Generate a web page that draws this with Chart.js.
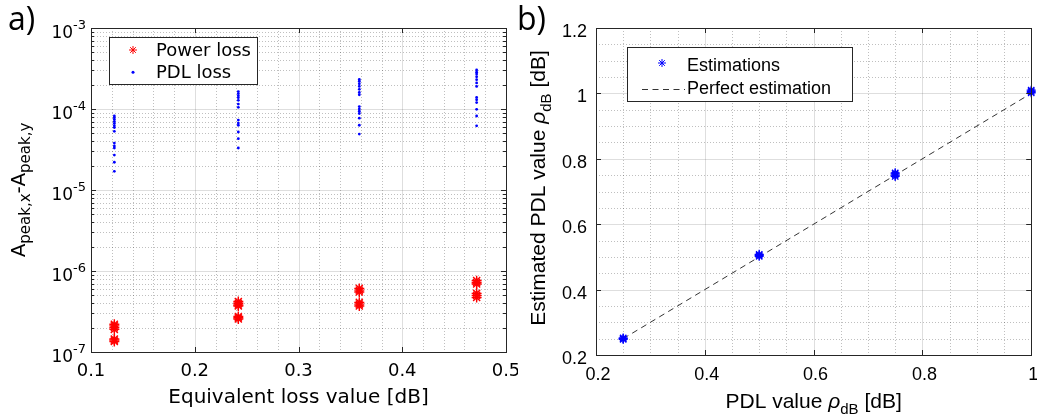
<!DOCTYPE html>
<html>
<head>
<meta charset="utf-8">
<title>PDL estimation</title>
<script src="https://cdn.jsdelivr.net/npm/chart.js@4.4.1/dist/chart.umd.min.js"></script>
<style>
  html, body { margin: 0; padding: 0; background: #fff; }
  body { width: 1037px; height: 418px; position: relative; overflow: hidden; }
  canvas { position: absolute; top: 0; }
  #chartA { left: 0; }
  #chartB { left: 518px; }
</style>
</head>
<body>
<canvas id="chartA" width="518" height="418"></canvas>
<canvas id="chartB" width="519" height="418"></canvas>
<script>
// ---- data, panel a) ----
const lossValue = [0.1225, 0.242, 0.3586, 0.4717];
const powerLoss = [
    [2.2e-7, 2.1e-7, 2.0e-7, 1.9e-7, 1.45e-7, 1.4e-7, 1.35e-7],
    [4.2e-7, 4.0e-7, 3.8e-7, 3.7e-7, 2.75e-7, 2.65e-7, 2.55e-7],
    [6.1e-7, 5.8e-7, 5.5e-7, 4.1e-7, 3.9e-7, 3.7e-7],
    [7.6e-7, 7.2e-7, 6.9e-7, 5.3e-7, 5.0e-7, 4.7e-7]
];
const pdlLoss = [
    [8.2e-5, 7.8e-5, 7.4e-5, 7.0e-5, 6.6e-5, 6.2e-5, 5.9e-5, 5.3e-5, 3.8e-5, 3.5e-5, 3.3e-5, 2.7e-5, 2.2e-5, 1.7e-5],
    [1.64e-4, 1.55e-4, 1.46e-4, 1.38e-4, 1.28e-4, 1.15e-4, 1.05e-4, 7.3e-5, 6.7e-5, 6.3e-5, 5.2e-5, 4.3e-5, 3.3e-5],
    [2.32e-4, 2.2e-4, 2.05e-4, 1.9e-4, 1.75e-4, 1.6e-4, 1.5e-4, 1.07e-4, 1.0e-4, 9.4e-5, 8.8e-5, 7.7e-5, 6.3e-5, 4.9e-5],
    [3.03e-4, 2.85e-4, 2.7e-4, 2.5e-4, 2.3e-4, 2.1e-4, 1.9e-4, 1.39e-4, 1.3e-4, 1.2e-4, 9.9e-5, 8.2e-5, 6.2e-5]
];
const xTicksA = [0.1, 0.2, 0.3, 0.4, 0.5];
const yTicksA = [1e-7, 1e-6, 1e-5, 1e-4, 1e-3];

// ---- data, panel b) ----
const pdlTrue = [0.25, 0.5, 0.75, 1.0];
const pdlEstimated = [
    [0.248, 0.25, 0.252],
    [0.502, 0.505, 0.508],
    [0.746, 0.75, 0.754, 0.757],
    [1.002, 1.006, 1.01]
];
const perfectLine = [0.25, 1.0];
const xTicksB = [0.2, 0.4, 0.6, 0.8, 1];
const yTicksB = [0.2, 0.4, 0.6, 0.8, 1, 1.2];

const ink = '#262626';
const majorGrid = 'rgba(0,0,0,0.13)';
const minorGrid = 'rgba(0,0,0,0.25)';

// text runs: [text, font, dy]
function drawRuns(ctx, runs, x, y, angle, align) {
    ctx.save();
    ctx.translate(x, y);
    ctx.rotate(angle);
    ctx.textAlign = 'left';
    ctx.textBaseline = 'alphabetic';
    ctx.fillStyle = '#000';
    let total = 0;
    runs.forEach(r => { ctx.font = r[1]; total += ctx.measureText(r[0]).width; });
    let cx = align === 'center' ? -total / 2 : (align === 'right' ? -total : 0);
    runs.forEach(r => {
        ctx.font = r[1];
        ctx.fillText(r[0], cx, r[2] || 0);
        cx += ctx.measureText(r[0]).width;
    });
    ctx.restore();
}

function vLine(ctx, px, top, bottom) {
    const xx = Math.round(px) + 0.5;
    ctx.beginPath(); ctx.moveTo(xx, top); ctx.lineTo(xx, bottom); ctx.stroke();
}
function hLine(ctx, py, left, right) {
    const yy = Math.round(py) + 0.5;
    ctx.beginPath(); ctx.moveTo(left, yy); ctx.lineTo(right, yy); ctx.stroke();
}

function drawBox(ctx, a) {
    ctx.strokeStyle = ink;
    ctx.lineWidth = 1;
    ctx.setLineDash([]);
    ctx.strokeRect(Math.round(a.left) + 0.5, Math.round(a.top) + 0.5,
        Math.round(a.right - a.left), Math.round(a.bottom - a.top));
}

// minor positions (grid only)
const minorXA = [];
for (let i = 5; i <= 25; i++) if (i % 5) minorXA.push(i * 0.02);
const minorYA = [];
for (let d = -7; d <= -4; d++) for (let m = 2; m <= 9; m++) minorYA.push(m * Math.pow(10, d));
const minorB = [];
for (let i = 4; i <= 24; i++) if (i % 4) minorB.push(i * 0.05);

const frameA = {
    id: 'frameA',
    beforeDatasetsDraw(chart) {
        const { ctx, chartArea: a, scales: { x, y } } = chart;
        ctx.save();
        ctx.lineWidth = 1;
        ctx.setLineDash([1, 2]);
        ctx.strokeStyle = minorGrid;
        minorXA.forEach(v => vLine(ctx, x.getPixelForValue(v), a.top, a.bottom));
        minorYA.forEach(v => hLine(ctx, y.getPixelForValue(v), a.left, a.right));
        ctx.setLineDash([]);
        ctx.strokeStyle = majorGrid;
        xTicksA.forEach(v => vLine(ctx, x.getPixelForValue(v), a.top, a.bottom));
        yTicksA.forEach(v => hLine(ctx, y.getPixelForValue(v), a.left, a.right));
        ctx.restore();
    },
    afterDraw(chart) {
        const { ctx, chartArea: a, scales: { x, y } } = chart;
        ctx.save();
        drawBox(ctx, a);
        ctx.strokeStyle = ink;
        xTicksA.forEach(v => {
            const px = x.getPixelForValue(v);
            vLine(ctx, px, a.bottom - 5, a.bottom);
            vLine(ctx, px, a.top, a.top + 5);
        });
        yTicksA.forEach(v => {
            const py = y.getPixelForValue(v);
            hLine(ctx, py, a.left, a.left + 5);
            hLine(ctx, py, a.right - 5, a.right);
        });
        minorYA.forEach(v => {
            const py = y.getPixelForValue(v);
            hLine(ctx, py, a.left, a.left + 3);
            hLine(ctx, py, a.right - 3, a.right);
        });

        // tick labels
        ctx.fillStyle = '#000';
        ctx.textBaseline = 'alphabetic';
        xTicksA.forEach(v => {
            ctx.font = '18px "DejaVu Sans"';
            ctx.textAlign = 'center';
            ctx.fillText(v.toFixed(1), x.getPixelForValue(v), 376);
        });
        yTicksA.forEach(v => {
            const py = y.getPixelForValue(v);
            const sup = String(Math.round(Math.log10(v)));
            drawRuns(ctx, [['10', '17px "DejaVu Sans"', 0], [sup, '13px "DejaVu Sans"', -9]], 86, py + 10, 0, 'right');
        });

        // axis titles
        drawRuns(ctx, [['Equivalent loss value [dB]', '20px "DejaVu Sans"', 0]], (a.left + a.right) / 2, 403, 0, 'center');
        drawRuns(ctx, [
            ['A', '20px "DejaVu Sans"', 0],
            ['peak,x', '15px "DejaVu Sans"', 5],
            ['-A', '20px "DejaVu Sans"', 0],
            ['peak,y', '15px "DejaVu Sans"', 5]
        ], 25, (a.top + a.bottom) / 2, -Math.PI / 2, 'center');

        // legend
        ctx.fillStyle = '#fff';
        ctx.fillRect(109.5, 37.5, 148, 47);
        ctx.strokeStyle = ink;
        ctx.strokeRect(109.5, 37.5, 148, 47);
        ctx.strokeStyle = '#ff0000';
        ctx.fillStyle = '#ff0000';
        Chart.helpers.drawPoint(ctx, { pointStyle: 'star', radius: 4, borderWidth: 1 }, 133, 50);
        ctx.fillStyle = '#0000ff';
        ctx.beginPath(); ctx.arc(133, 72.3, 1.5, 0, Math.PI * 2); ctx.fill();
        ctx.fillStyle = '#000';
        ctx.font = '18px "DejaVu Sans"';
        ctx.textAlign = 'left';
        ctx.fillText('Power loss', 156, 56);
        ctx.fillText('PDL loss', 156, 78);

        // panel tag
        ctx.font = '32px "Open Sans"';
        ctx.fillText('a)', 8, 30);
        ctx.restore();
    }
};

const frameB = {
    id: 'frameB',
    beforeDatasetsDraw(chart) {
        const { ctx, chartArea: a, scales: { x, y } } = chart;
        ctx.save();
        ctx.lineWidth = 1;
        ctx.setLineDash([1, 2]);
        ctx.strokeStyle = minorGrid;
        minorB.filter(v => v < 1.01).forEach(v => vLine(ctx, x.getPixelForValue(v), a.top, a.bottom));
        minorB.forEach(v => hLine(ctx, y.getPixelForValue(v), a.left, a.right));
        ctx.setLineDash([]);
        ctx.strokeStyle = majorGrid;
        xTicksB.forEach(v => vLine(ctx, x.getPixelForValue(v), a.top, a.bottom));
        yTicksB.forEach(v => hLine(ctx, y.getPixelForValue(v), a.left, a.right));
        ctx.restore();
    },
    afterDraw(chart) {
        const { ctx, chartArea: a, scales: { x, y } } = chart;
        ctx.save();
        drawBox(ctx, a);
        ctx.strokeStyle = ink;
        xTicksB.forEach(v => {
            const px = x.getPixelForValue(v);
            vLine(ctx, px, a.bottom - 5, a.bottom);
            vLine(ctx, px, a.top, a.top + 5);
        });
        yTicksB.forEach(v => {
            const py = y.getPixelForValue(v);
            hLine(ctx, py, a.left, a.left + 5);
            hLine(ctx, py, a.right - 5, a.right);
        });

        ctx.fillStyle = '#000';
        ctx.textBaseline = 'alphabetic';
        ctx.font = '18px "Liberation Sans"';
        xTicksB.forEach(v => {
            ctx.textAlign = 'center';
            ctx.fillText(String(Number(v.toFixed(1))), x.getPixelForValue(v) + 2, 380);
        });
        yTicksB.forEach(v => {
            ctx.textAlign = 'right';
            ctx.fillText(String(Number(v.toFixed(1))), 69, y.getPixelForValue(v) + 9);
        });

        const f = '21px "Liberation Sans"';
        const fi = 'italic 21px "Liberation Sans"';
        const fs = '15px "Liberation Sans"';
        drawRuns(ctx, [['PDL value ', f, 0], ['\u03c1', fi, 0], ['dB', fs, 6], [' [dB]', f, 0]],
            (a.left + a.right) / 2, 408, 0, 'center');
        drawRuns(ctx, [['Estimated PDL value ', f, 0], ['\u03c1', fi, 0], ['dB', fs, 6], [' [dB]', f, 0]],
            27, 188, -Math.PI / 2, 'center');

        // legend
        ctx.fillStyle = '#fff';
        ctx.fillRect(109.5, 47.5, 225, 54);
        ctx.strokeStyle = ink;
        ctx.strokeRect(109.5, 47.5, 225, 54);
        ctx.strokeStyle = '#0000ff';
        ctx.fillStyle = '#0000ff';
        Chart.helpers.drawPoint(ctx, { pointStyle: 'star', radius: 4, borderWidth: 1 }, 144, 63);
        ctx.strokeStyle = '#333';
        ctx.setLineDash([6, 4.5]);
        ctx.beginPath(); ctx.moveTo(124, 89.5); ctx.lineTo(167, 89.5); ctx.stroke();
        ctx.setLineDash([]);
        ctx.fillStyle = '#000';
        ctx.font = '18px "Liberation Sans"';
        ctx.textAlign = 'left';
        ctx.fillText('Estimations', 169, 71);
        ctx.fillText('Perfect estimation', 169, 94);

        ctx.font = '32px "Open Sans"';
        ctx.fillText('b)', -1, 30);
        ctx.restore();
    }
};

function hiddenAxis(extra) {
    return Object.assign({
        ticks: { display: false },
        grid: { display: false },
        border: { display: false },
        title: { display: false }
    }, extra);
}

const powerPoints = powerLoss.flatMap((col, i) => col.map(v => ({ x: lossValue[i], y: v })));
const pdlPoints = pdlLoss.flatMap((col, i) => col.map(v => ({ x: lossValue[i], y: v })));

new Chart(document.getElementById('chartA').getContext('2d'), {
    type: 'scatter',
    data: {
        datasets: [{
            label: 'Power loss',
            data: powerPoints,
            pointStyle: 'star',
            pointRadius: 5,
            borderWidth: 1.4,
            borderColor: '#ff0000',
            backgroundColor: '#ff0000'
        }, {
            label: 'PDL loss',
            data: pdlPoints,
            pointStyle: 'circle',
            pointRadius: 1.4,
            borderWidth: 0,
            backgroundColor: '#0000ff'
        }]
    },
    options: {
        responsive: false,
        animation: false,
        devicePixelRatio: 1,
        events: [],
        layout: { padding: { left: 0, top: 28, right: 12, bottom: 0 } },
        plugins: { legend: { display: false }, tooltip: { enabled: false } },
        scales: {
            x: hiddenAxis({ type: 'linear', min: 0.1, max: 0.5, afterFit: s => { s.height = 66; } }),
            y: hiddenAxis({ type: 'logarithmic', min: 1e-7, max: 1e-3, afterFit: s => { s.width = 91; } })
        }
    },
    plugins: [frameA]
});

const estPoints = pdlEstimated.flatMap((col, i) => col.map(v => ({ x: pdlTrue[i], y: v })));

new Chart(document.getElementById('chartB').getContext('2d'), {
    type: 'scatter',
    data: {
        datasets: [{
            label: 'Estimations',
            data: estPoints,
            pointStyle: 'star',
            pointRadius: 4.5,
            borderWidth: 1.3,
            borderColor: '#0000ff',
            backgroundColor: '#0000ff',
            clip: false
        }, {
            type: 'line',
            label: 'Perfect estimation',
            data: perfectLine.map(v => ({ x: v, y: v })),
            borderColor: '#333333',
            borderWidth: 1,
            borderDash: [6, 4.5],
            pointRadius: 0,
            fill: false
        }]
    },
    options: {
        responsive: false,
        animation: false,
        devicePixelRatio: 1,
        events: [],
        layout: { padding: { left: 0, top: 28, right: 1, bottom: 0 } },
        plugins: { legend: { display: false }, tooltip: { enabled: false } },
        scales: {
            x: hiddenAxis({ type: 'linear', min: 0.2, max: 1, afterFit: s => { s.height = 63; } }),
            y: hiddenAxis({ type: 'linear', min: 0.2, max: 1.2, afterFit: s => { s.width = 78; } })
        }
    },
    plugins: [frameB]
});
</script>
</body>
</html>
